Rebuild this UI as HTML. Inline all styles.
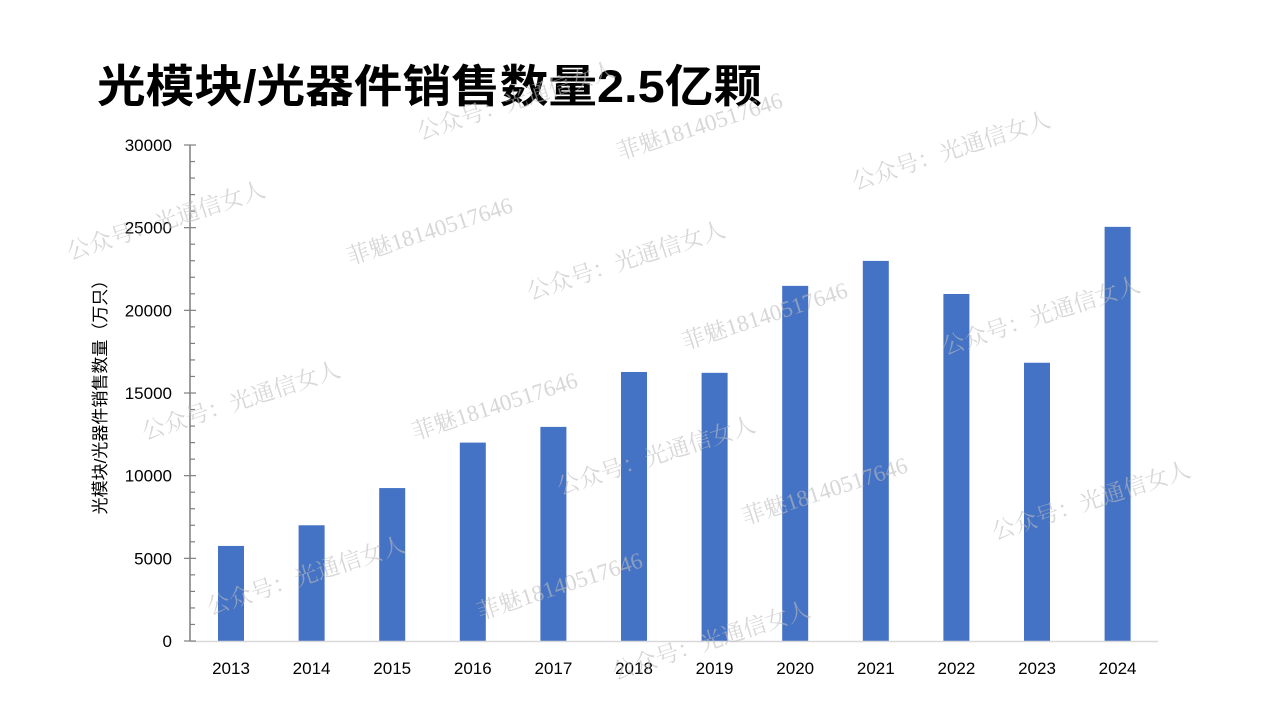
<!DOCTYPE html>
<html><head><meta charset="utf-8">
<style>
html,body{margin:0;padding:0;background:#fff;}
body{width:1269px;height:714px;overflow:hidden;position:relative;font-family:"Liberation Sans","Noto Sans CJK SC",sans-serif;}
</style></head>
<body>
<svg id="chart" width="1269" height="714" xmlns="http://www.w3.org/2000/svg" font-family="'Liberation Sans','Noto Sans CJK SC',sans-serif">
<text x="97" y="102" font-size="45" font-weight="bold" fill="#000" textLength="665" lengthAdjust="spacingAndGlyphs">光模块/光器件销售数量2.5亿颗</text>
<text transform="translate(106,393) rotate(-90)" text-anchor="middle" font-size="17" fill="#000">光模块/光器件销售数量（万只）</text>
<g id="grid"></g>
<g id="bars"></g>
<g id="axes"></g>
<g id="wm" fill="#bdbdbd" fill-opacity="0.6" font-family="'Liberation Serif','Noto Serif CJK SC',serif" font-size="23"></g>
</svg>
<script>
const categories=["2013","2014","2015","2016","2017","2018","2019","2020","2021","2022","2023","2024"];
const values=[5750,7000,9250,12000,12950,16270,16220,21480,22990,20990,16830,25050];
const yTicks=[0,5000,10000,15000,20000,25000,30000];
const NS="http://www.w3.org/2000/svg";
const x0=190,x1=1158,y0=641,yTop=145,yMax=30000;
const y=v=>y0-(v/yMax)*(y0-yTop);
const xc=i=>231+i*80.6;
function mk(tag,attrs,parent){const e=document.createElementNS(NS,tag);for(const k in attrs)e.setAttribute(k,attrs[k]);parent.appendChild(e);return e;}
const wm=document.getElementById('wm');
const wms=[["公众号：光通信女人",70,260],["菲魅18140517646",350,265],["公众号：光通信女人",530,300],["菲魅18140517646",685,350],["公众号：光通信女人",945,355],["公众号：光通信女人",145,440],["菲魅18140517646",415,440],["公众号：光通信女人",560,495],["菲魅18140517646",745,525],["公众号：光通信女人",995,540],["公众号：光通信女人",210,615],["菲魅18140517646",480,620],["公众号：光通信女人",615,680],["公众号：光通信女人",420,140],["菲魅18140517646",620,160],["公众号：光通信女人",855,190]];
wms.forEach(w=>{const t=mk('text',{x:w[1],y:w[2],transform:`rotate(-18 ${w[1]} ${w[2]})`},wm);t.textContent=w[0];

});
const bars=document.getElementById('bars');
values.forEach((v,i)=>{const r=mk('rect',{x:xc(i)-13,y:y(v),width:26,height:y0-y(v),fill:'#4472c4'},bars);


const t=mk('text',{x:xc(i),y:674,'text-anchor':'middle','font-size':17,fill:'#000'},bars);t.textContent=categories[i];

});
const ax=document.getElementById('axes');
const xl=mk('line',{x1:x0,y1:y0+0.5,x2:x1,y2:y0+0.5,stroke:'#d9d9d9','stroke-width':1.5},ax);


const yl=mk('line',{x1:x0,y1:yTop,x2:x0,y2:y0,stroke:'#7f7f7f','stroke-width':1.5},ax);


for(let v=1000;v<yMax;v+=1000){if(v%5000)mk('line',{x1:x0,y1:y(v),x2:x0+5,y2:y(v),stroke:'#7f7f7f','stroke-width':1.2},ax);}
yTicks.forEach(v=>{mk('line',{x1:x0-6,y1:y(v),x2:x0+6,y2:y(v),stroke:'#7f7f7f','stroke-width':1.2},ax);
const t=mk('text',{x:172,y:y(v)+6,'text-anchor':'end','font-size':17,fill:'#000'},ax);t.textContent=v;

});
</script>
</body></html>
